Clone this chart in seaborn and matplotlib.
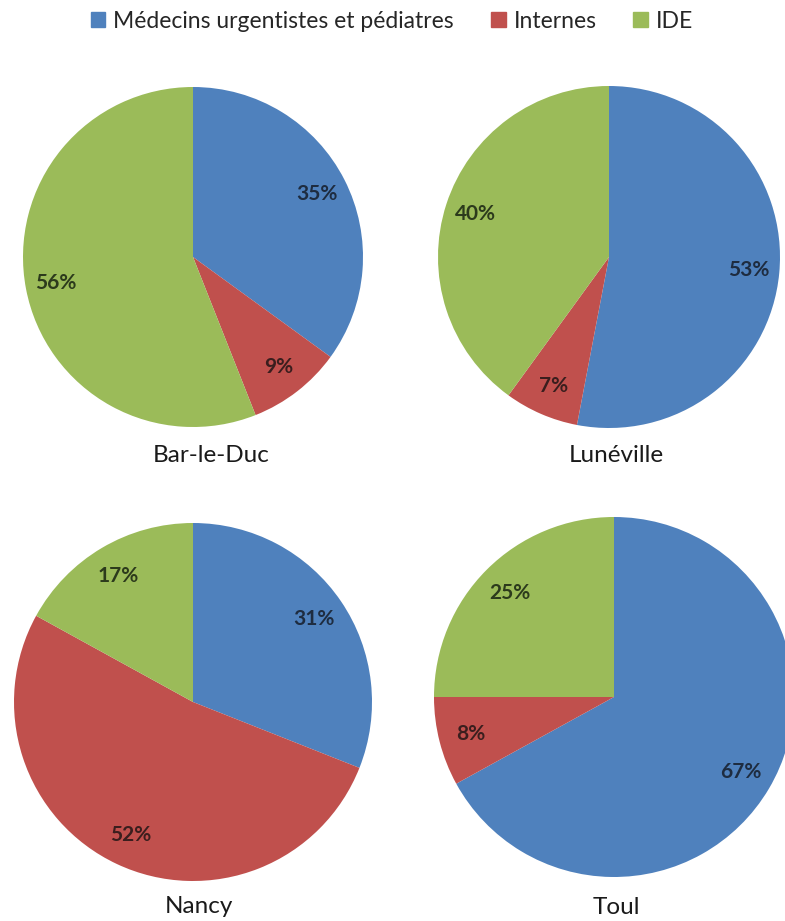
import matplotlib
matplotlib.use("Agg")
import matplotlib.pyplot as plt
import matplotlib.patches as mpatches
import seaborn as sns

# categories and per-city shares (%)
categories = ["Médecins urgentistes et pédiatres", "Internes", "IDE"]
cities = ["Bar-le-Duc", "Lunéville", "Nancy", "Toul"]
bar_le_duc = [35, 9, 56]
luneville = [53, 7, 40]
nancy = [31, 52, 17]
toul = [67, 8, 25]

sns.set_theme(style="white")
plt.rcParams["font.family"] = ["Lato", "DejaVu Sans"]

colors = sns.color_palette(["#4F81BD", "#C0504D", "#9BBB59"])
label_colors = ["#1E2C40", "#3A1E1E", "#2C3A1C"]

W, H = 785, 921
fig = plt.figure(figsize=(W / 100, H / 100), dpi=100)


def add_pie_axes(cx, cy, r, pad=1.02):
    """Axes whose square box holds a unit pie centred at pixel (cx, cy)."""
    R = r * pad
    ax = fig.add_axes([(cx - R) / W, (H - cy - R) / H, 2 * R / W, 2 * R / H])
    return ax, pad


# pixel centre / radius of each pie, and title position
layout = [
    (193, 257, 170, 211, 455),
    (609, 257, 171, 616, 455),
    (193, 702, 179, 199, 906),
    (614, 697, 180, 616, 907),
]
series = [bar_le_duc, luneville, nancy, toul]

for city, values, (cx, cy, r, tx, ty) in zip(cities, series, layout):
    ax, pad = add_pie_axes(cx, cy, r)
    wedges, texts, autotexts = ax.pie(
        values,
        colors=colors,
        startangle=90,
        counterclock=False,
        autopct=lambda p: f"{p:.0f}%",
        pctdistance=0.82,
        wedgeprops=dict(linewidth=0),
        textprops=dict(fontsize=15, fontweight="bold"),
    )
    for t, c in zip(autotexts, label_colors):
        t.set_color(c)
    ax.set_xlim(-pad, pad)
    ax.set_ylim(-pad, pad)
    ax.set_aspect("equal")
    ax.axis("off")
    fig.text(tx / W, 1 - ty / H, city, ha="center", va="center",
             fontsize=17.5, color="#1a1a1a")

handles = [mpatches.Patch(color=c, label=l) for c, l in zip(colors, categories)]
fig.legend(handles=handles, loc="center", bbox_to_anchor=(392 / W, 1 - 21 / H),
           ncol=3, frameon=False, fontsize=16.5, handlelength=0.65,
           handleheight=0.65, handletextpad=0.35, columnspacing=1.6)

fig.savefig("out.png", dpi=100, facecolor="white")
